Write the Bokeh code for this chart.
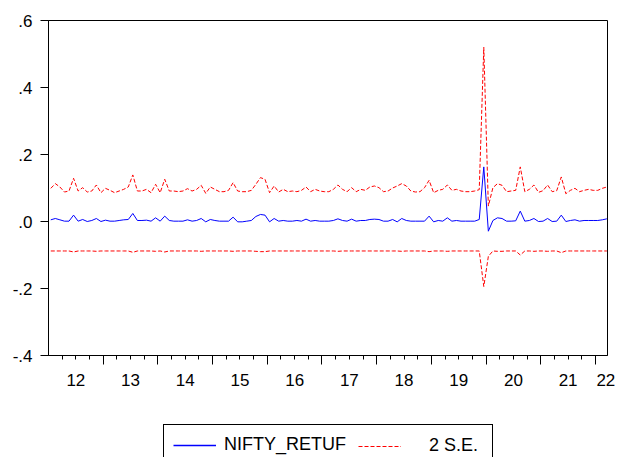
from bokeh.plotting import figure
from bokeh.models import Range1d, FixedTicker, LinearAxis, Legend, LegendItem, CustomJSTickFormatter
from bokeh.layouts import column
from bokeh.core.properties import value
from bokeh.embed import file_html
from bokeh.resources import INLINE

# ---- data (monthly, Jan 2012 .. Mar 2022) ----
start_year = 2012
nifty_retuf = [
    0.005, 0.009, 0.005, 0.001, 0.001, 0.019, 0.001, 0.006, 0.000, 0.003, 0.009, 0.000,
    0.004, 0.001, 0.001, 0.003, 0.005, 0.006, 0.024, 0.003, 0.003, 0.004, 0.001, 0.011,
    0.001, 0.016, 0.003, 0.001, 0.001, 0.001, 0.005, 0.001, 0.003, 0.009, -0.001, 0.006,
    0.003, 0.001, 0.001, 0.001, 0.013, -0.001, -0.001, 0.001, 0.003, 0.015, 0.021, 0.019,
    -0.001, 0.009, 0.001, 0.003, 0.001, 0.001, 0.003, 0.001, 0.007, 0.001, 0.003, 0.001,
    0.001, 0.001, 0.003, 0.008, 0.003, 0.001, 0.007, 0.001, 0.003, 0.003, 0.006, 0.007,
    0.006, 0.001, 0.001, 0.006, -0.001, 0.009, 0.003, 0.001, 0.001, 0.001, 0.001, 0.016,
    -0.001, 0.003, 0.001, 0.011, 0.001, 0.003, 0.001, 0.001, 0.001, 0.001, 0.006, 0.163,
    -0.029, 0.003, 0.011, 0.009, 0.001, 0.001, 0.002, 0.031, 0.001, 0.003, 0.009, 0.000,
    0.001, 0.009, 0.000, 0.001, 0.019, 0.000, 0.003, 0.005, 0.001, 0.003, 0.003, 0.003,
    0.003, 0.005, 0.008,
]
upper_2se = [
    0.099, 0.113, 0.103, 0.088, 0.091, 0.129, 0.091, 0.101, 0.088, 0.091, 0.109, 0.086,
    0.099, 0.093, 0.086, 0.091, 0.096, 0.103, 0.139, 0.091, 0.091, 0.096, 0.086, 0.111,
    0.086, 0.126, 0.091, 0.091, 0.089, 0.091, 0.098, 0.091, 0.096, 0.108, 0.084, 0.103,
    0.096, 0.089, 0.089, 0.093, 0.116, 0.091, 0.089, 0.089, 0.093, 0.111, 0.131, 0.126,
    0.086, 0.106, 0.088, 0.096, 0.089, 0.091, 0.089, 0.093, 0.103, 0.089, 0.096, 0.091,
    0.089, 0.089, 0.096, 0.109, 0.096, 0.089, 0.101, 0.089, 0.096, 0.093, 0.103, 0.106,
    0.101, 0.089, 0.091, 0.100, 0.106, 0.113, 0.106, 0.091, 0.088, 0.089, 0.101, 0.123,
    0.086, 0.093, 0.096, 0.109, 0.093, 0.096, 0.091, 0.089, 0.089, 0.091, 0.095, 0.520,
    0.046, 0.101, 0.113, 0.108, 0.089, 0.091, 0.093, 0.163, 0.089, 0.096, 0.109, 0.087,
    0.092, 0.109, 0.089, 0.092, 0.133, 0.083, 0.093, 0.099, 0.089, 0.093, 0.096, 0.093,
    0.093, 0.099, 0.103,
]
lower_2se = [
    -0.088, -0.088, -0.088, -0.088, -0.088, -0.091, -0.088, -0.088, -0.088, -0.088, -0.089, -0.088,
    -0.088, -0.088, -0.088, -0.088, -0.088, -0.088, -0.092, -0.088, -0.088, -0.088, -0.088, -0.089,
    -0.088, -0.091, -0.088, -0.088, -0.088, -0.088, -0.088, -0.088, -0.088, -0.089, -0.088, -0.088,
    -0.088, -0.088, -0.088, -0.088, -0.089, -0.088, -0.088, -0.088, -0.088, -0.089, -0.090, -0.090,
    -0.088, -0.088, -0.088, -0.088, -0.088, -0.088, -0.088, -0.088, -0.088, -0.088, -0.088, -0.088,
    -0.088, -0.088, -0.088, -0.089, -0.088, -0.088, -0.088, -0.088, -0.088, -0.088, -0.088, -0.088,
    -0.088, -0.088, -0.088, -0.088, -0.088, -0.089, -0.088, -0.088, -0.088, -0.088, -0.088, -0.090,
    -0.088, -0.088, -0.088, -0.089, -0.088, -0.088, -0.088, -0.088, -0.088, -0.088, -0.088, -0.194,
    -0.104, -0.088, -0.089, -0.089, -0.088, -0.088, -0.088, -0.100, -0.088, -0.088, -0.089, -0.088,
    -0.088, -0.089, -0.088, -0.088, -0.093, -0.088, -0.088, -0.088, -0.088, -0.088, -0.088, -0.088,
    -0.088, -0.088, -0.088,
]

y_ticks = [-0.4, -0.2, 0.0, 0.2, 0.4, 0.6]
y_tick_labels = ["-.4", "-.2", ".0", ".2", ".4", ".6"]
year_ticks = [2013, 2014, 2015, 2016, 2017, 2018, 2019, 2020, 2021, 2022]
quarter_ticks = [2012 + q / 4 for q in range(1, 41)]
x_label_pos = [2012.5, 2013.5, 2014.5, 2015.5, 2016.5, 2017.5, 2018.5, 2019.5, 2020.5, 2021.5, 2022.19]
x_tick_labels = ["12", "13", "14", "15", "16", "17", "18", "19", "20", "21", "22"]
series_names = ["NIFTY_RETUF", "2 S.E."]

x = [start_year + (i + 0.5) / 12 for i in range(len(nifty_retuf))]

FONT = "Liberation Sans"
BLUE = "#0000FF"
RED = "#FF0000"

# ---------------- main chart ----------------
p = figure(width=621, height=424, output_backend="svg", toolbar_location=None,
           x_range=Range1d(2012.0, 2022.22), y_range=Range1d(-0.4, 0.6),
           x_axis_type=None, y_axis_type=None,
           min_border_left=48, min_border_right=14, min_border_top=20, min_border_bottom=69,
           background_fill_color="white", border_fill_color="white")
p.outline_line_color = "black"
p.outline_line_width = 1
p.outline_line_alpha = 1

fmt_js = "const i = pos.findIndex(t => Math.abs(t - tick) < 1e-6); return i >= 0 ? labs[i] : '';"

yax = LinearAxis(ticker=FixedTicker(ticks=y_ticks, minor_ticks=[]),
                 formatter=CustomJSTickFormatter(args=dict(pos=y_ticks, labs=y_tick_labels), code=fmt_js),
                 major_tick_out=8, major_tick_in=0, minor_tick_out=0, minor_tick_in=0,
                 major_label_standoff=8, major_label_text_font=FONT, major_label_text_font_size="17px",
                 major_label_text_color="black", axis_line_color="black", major_tick_line_color="black")
p.add_layout(yax, "left")

xax_ticks = LinearAxis(ticker=FixedTicker(ticks=year_ticks, minor_ticks=quarter_ticks),
                       formatter=CustomJSTickFormatter(code="return '';"),
                       major_tick_out=9, major_tick_in=0, minor_tick_out=4, minor_tick_in=0,
                       major_label_standoff=0, major_label_text_font_size="0px",
                       axis_line_color="black", major_tick_line_color="black", minor_tick_line_color="black")
p.add_layout(xax_ticks, "below")

xax_labels = LinearAxis(ticker=FixedTicker(ticks=x_label_pos, minor_ticks=[]),
                        formatter=CustomJSTickFormatter(args=dict(pos=x_label_pos, labs=x_tick_labels), code=fmt_js),
                        major_tick_out=0, major_tick_in=0, minor_tick_out=0, minor_tick_in=0,
                        axis_line_color=None, major_tick_line_color=None, minor_tick_line_color=None,
                        major_label_standoff=9, major_label_text_font=FONT, major_label_text_font_size="17px",
                        major_label_text_color="black")
p.add_layout(xax_labels, "below")

p.line(x, lower_2se, line_color=RED, line_width=1, line_dash="4 2")
p.line(x, upper_2se, line_color=RED, line_width=1, line_dash="4 2")
p.line(x, nifty_retuf, line_color=BLUE, line_width=1)

# ---------------- legend strip ----------------
# proxies: same series, drawn outside this strip's visible range, only used for legend glyphs
lg = figure(width=621, height=33, output_backend="svg", toolbar_location=None,
            x_range=Range1d(0, 621), y_range=Range1d(0, 33),
            x_axis_type=None, y_axis_type=None,
            min_border_left=0, min_border_right=0, min_border_top=0, min_border_bottom=0,
            background_fill_color="white", border_fill_color="white", outline_line_color=None)
g_f = lg.line(x, nifty_retuf, line_color=BLUE, line_width=1.3)
g_se = lg.line(x, upper_2se, line_color=RED, line_width=1, line_dash="4 2")

leg1 = Legend(items=[LegendItem(label=value(series_names[0]), renderers=[g_f])],
              location=(115, -8), orientation="horizontal", padding=9, margin=0,
              glyph_width=43, glyph_height=20, label_standoff=8, label_width=259,
              border_line_color="black", border_line_width=1, border_line_alpha=1,
              background_fill_color="white", background_fill_alpha=1,
              label_text_font=FONT, label_text_font_size="18px", label_text_color="black")
leg2 = Legend(items=[LegendItem(label=value(series_names[1]), renderers=[g_se])],
              location=(310, 1), orientation="horizontal", padding=0, margin=0,
              glyph_width=43, glyph_height=20, label_standoff=28,
              border_line_color=None, background_fill_alpha=0,
              label_text_font=FONT, label_text_font_size="18px", label_text_color="black")
lg.add_layout(leg1, "center")
lg.add_layout(leg2, "center")

layout = column(p, lg, spacing=0)
open("out.html", "w").write(file_html(layout, INLINE))
